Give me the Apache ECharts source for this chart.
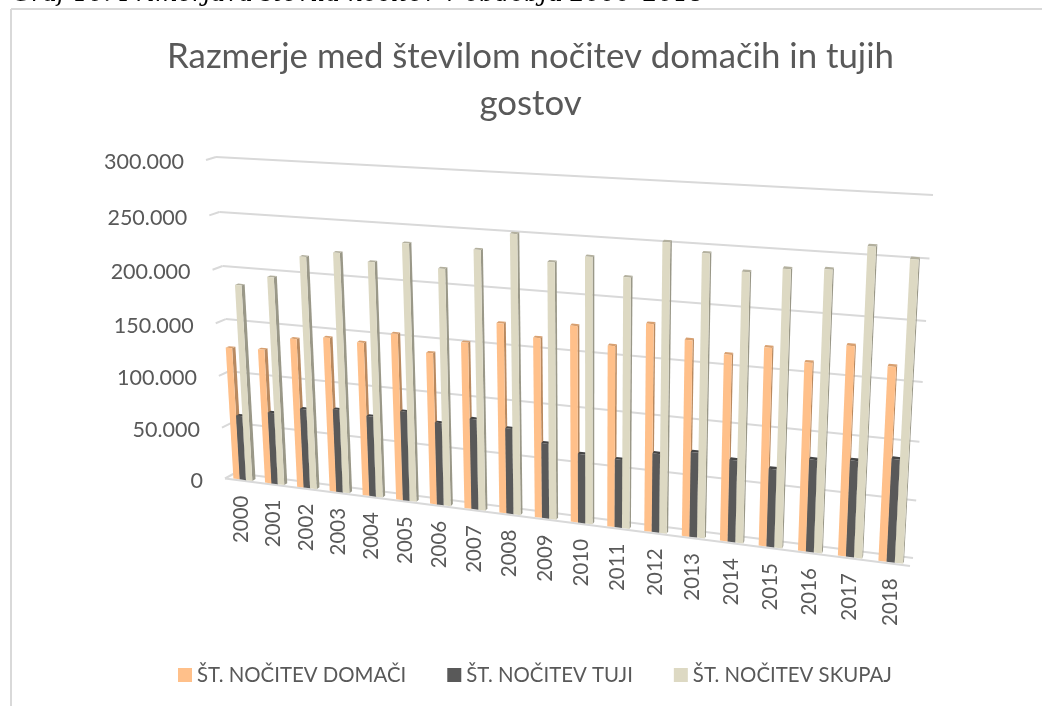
<!DOCTYPE html>
<html><head><meta charset="utf-8">
<style>html,body{margin:0;padding:0;background:#fff}#c{width:1042px;height:706px}</style>
<script src="https://cdn.jsdelivr.net/npm/echarts@6/dist/echarts.min.js"></script>
</head><body><div id="c"></div>
<script>
var years = ['2000','2001','2002','2003','2004','2005','2006','2007','2008','2009','2010','2011','2012','2013','2014','2015','2016','2017','2018'];
var domaci = [127000,128500,141500,145500,144000,155000,140500,153000,173000,163000,176500,162000,184000,173000,163500,172500,163000,180000,166000];
var tuji   = [62500,69000,76000,79000,76000,84000,77000,84000,79000,69000,63000,62000,71000,76000,73000,69000,81000,84000,89000];
var skupaj = [187000,197000,218000,224000,218000,237000,217000,236000,252000,230000,237000,222000,254000,247000,234000,239000,241000,262000,254000];
var valueTicks = [0,50000,100000,150000,200000,250000,300000];
var seriesNames = ['ŠT. NOČITEV DOMAČI','ŠT. NOČITEV TUJI','ŠT. NOČITEV SKUPAJ'];
var titleText = 'Razmerje med številom nočitev domačih in tujih\ngostov';
var captionText = 'Graf 16: Primerjava števila nočitev v obdobju 2000–2018';

function homography(p0,p1,p2,p3){
  var dx1=p1[0]-p2[0],dx2=p3[0]-p2[0],sx=p0[0]-p1[0]+p2[0]-p3[0];
  var dy1=p1[1]-p2[1],dy2=p3[1]-p2[1],sy=p0[1]-p1[1]+p2[1]-p3[1];
  var den=dx1*dy2-dx2*dy1;
  var g=(sx*dy2-dx2*sy)/den,h=(dx1*sy-sx*dy1)/den;
  var a=p1[0]-p0[0]+g*p1[0],b=p3[0]-p0[0]+h*p3[0],c=p0[0];
  var d=p1[1]-p0[1]+g*p1[1],e=p3[1]-p0[1]+h*p3[1],f=p0[1];
  return function(u,v){var w=g*u+h*v+1;return [(a*u+b*v+c)/w,(d*u+e*v+f)/w];};
}
var frontPlane = homography([225,478.5],[910,566],[929,203],[206,160]);
var backPlane  = homography([235,473],[913,558],[933,195],[216,157]);
function project(u,v,d){
  var a=frontPlane(u,v),b=backPlane(u,v);
  return [a[0]+(b[0]-a[0])*d,a[1]+(b[1]-a[1])*d];
}
function unit(cs,p){return [(p[0]-cs.x)/cs.width,1-(p[1]-cs.y)/cs.height];}

var BAR_W=0.2, BAR_START=0.22, D0=0.15, D1=0.48;
function barRenderer(idx,cFront,cSide,cTop){
  return function(params,api){
    var cs=params.coordSys;
    var base=api.coord([api.value(0),0]), top=api.coord([api.value(0),api.value(1)]);
    var band=api.size([1,0])[0]/cs.width;
    var uc=unit(cs,base)[0];
    var u0=uc-band/2+band*(BAR_START+idx*BAR_W), u1=u0+band*BAR_W;
    var v0=0, v1=unit(cs,top)[1];
    function P(u,v,d){return project(u,v,d);}
    return {type:'group',children:[
      {type:'polygon',shape:{points:[P(u1,v0,D0),P(u1,v0,D1),P(u1,v1,D1),P(u1,v1,D0)]},style:{fill:cSide}},
      {type:'polygon',shape:{points:[P(u0,v1,D0),P(u1,v1,D0),P(u1,v1,D1),P(u0,v1,D1)]},style:{fill:cTop}},
      {type:'polygon',shape:{points:[P(u0,v0,D0),P(u1,v0,D0),P(u1,v1,D0),P(u0,v1,D0)]},style:{fill:cFront}}
    ]};
  };
}
function gridRenderer(params,api){
  var cs=params.coordSys;
  var v=unit(cs,api.coord([0,api.value(0)]))[1];
  var st={stroke:'#D9D9D9',lineWidth:2,fill:null};
  function line(a,b){return {type:'line',shape:{x1:a[0],y1:a[1],x2:b[0],y2:b[1]},style:st};}
  var kids=[line(project(0,v,0),project(0,v,1)),line(project(0,v,1),project(1,v,1))];
  if(v===0){kids.push(line(project(0,0,0),project(1,0,0)));}
  var a=project(0,v,0);
  kids.push({type:'text',x:a[0]-22,y:a[1]+2.5,style:{text:api.value(0)===0?'0':String(api.value(0)/1000)+'.000',align:'right',verticalAlign:'middle',fill:'#595959',fontFamily:'Lato',fontSize:21.5}});
  return {type:'group',children:kids};
}
function catLabelRenderer(params,api){
  var cs=params.coordSys;
  var u=unit(cs,api.coord([api.value(0),0]))[0];
  var a=project(u,0,0);
  return {type:'text',x:a[0]+1,y:a[1]+15,rotation:Math.PI/2,style:{text:years[api.value(0)],align:'right',verticalAlign:'middle',fill:'#595959',fontFamily:'Lato',fontSize:20.5}};
}
function pairs(arr){return arr.map(function(v,i){return [i,v];});}

var chart=echarts.init(document.getElementById('c'),null,{renderer:'canvas'});
chart.setOption({
  animation:false,
  backgroundColor:'#fff',
  title:{text:titleText,left:525.5,top:28,textAlign:'center',textStyle:{color:'#595959',fontFamily:'Lato',fontWeight:'normal',fontSize:34.8,lineHeight:47}},
  legend:{data:seriesNames,left:173,top:660,itemWidth:14,itemHeight:14,itemGap:41,icon:'rect',textStyle:{color:'#595959',fontFamily:'Lato',fontSize:20.4}},
  grid:{left:225,top:160,width:685,height:318},
  xAxis:{type:'category',data:years,show:false},
  yAxis:{type:'value',min:0,max:300000,interval:50000,show:false},
  graphic:[
    {type:'line',shape:{x1:11,y1:9,x2:1042,y2:9},style:{stroke:'#D9D9D9',lineWidth:2}},
    {type:'line',shape:{x1:11,y1:9,x2:11,y2:706},style:{stroke:'#D9D9D9',lineWidth:2}},
    {type:'text',left:12,top:-17,style:{text:captionText,font:'italic 24px "DejaVu Serif"',fill:'#000'}}
  ],
  series:[
    {type:'custom',name:'grid',coordinateSystem:'cartesian2d',clip:false,silent:true,renderItem:gridRenderer,data:valueTicks.map(function(v){return [v];}),encode:{y:0},z:1},
    {type:'custom',name:'cats',coordinateSystem:'cartesian2d',clip:false,silent:true,renderItem:catLabelRenderer,data:years.map(function(y,i){return [i];}),encode:{x:0},z:1},
    {type:'custom',name:seriesNames[0],coordinateSystem:'cartesian2d',clip:false,itemStyle:{color:'#FFC08A'},renderItem:barRenderer(0,'#FFC08A','#B98A60','#D8A070'),data:pairs(domaci),encode:{x:0,y:1},z:2},
    {type:'custom',name:seriesNames[1],coordinateSystem:'cartesian2d',clip:false,itemStyle:{color:'#595959'},renderItem:barRenderer(1,'#595959','#3E3E3E','#454545'),data:pairs(tuji),encode:{x:0,y:1},z:3},
    {type:'custom',name:seriesNames[2],coordinateSystem:'cartesian2d',clip:false,itemStyle:{color:'#DDD9C3'},renderItem:barRenderer(2,'#DDD9C3','#9A9888','#B3B09E'),data:pairs(skupaj),encode:{x:0,y:1},z:4}
  ]
});
</script></body></html>
